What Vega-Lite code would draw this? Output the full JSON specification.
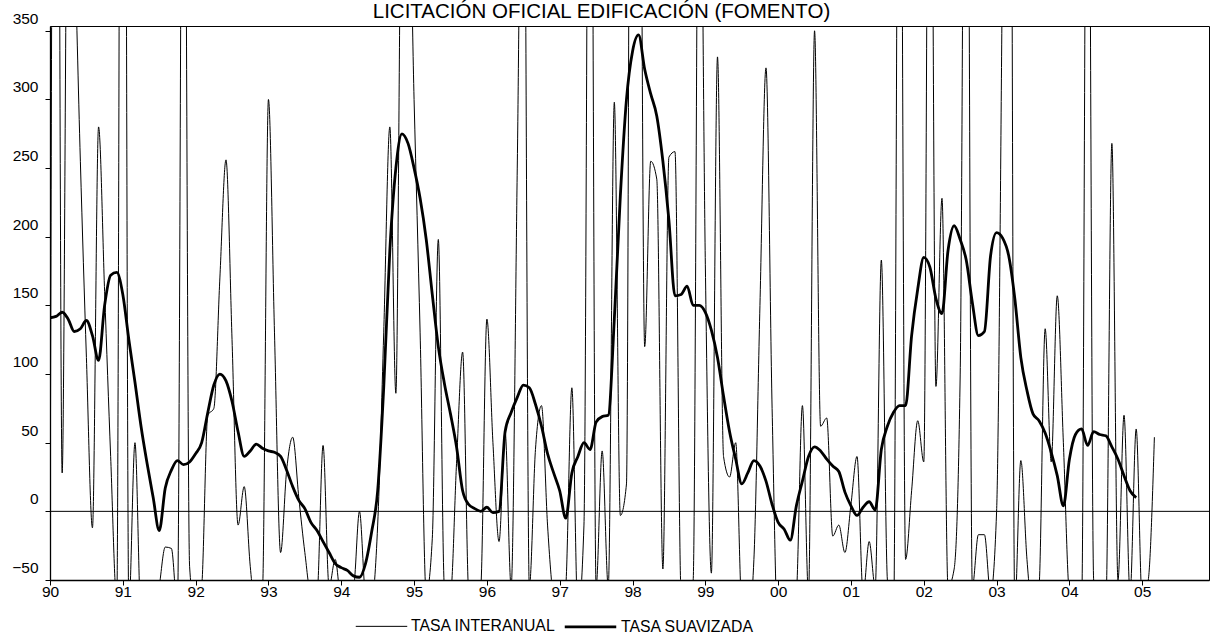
{
  "$schema": "https://vega.github.io/schema/vega-lite/v6.json",
  "width": 1159,
  "height": 554,
  "autosize": {"type": "none"},
  "padding": {"left": 50, "top": 26, "right": 2, "bottom": 56},
  "background": "white",
  "config": {
    "font": "Liberation Sans",
    "view": {"stroke": "black", "strokeWidth": 1},
    "axis": {"labelFont": "Liberation Sans", "labelColor": "black", "domainColor": "black", "tickColor": "black", "grid": false, "title": null}
  },
  "title": {
    "text": "LICITACIÓN OFICIAL EDIFICACIÓN (FOMENTO)",
    "font": "Liberation Sans",
    "fontSize": 20.5,
    "fontWeight": "normal",
    "color": "black",
    "anchor": "middle",
    "frame": "group",
    "dx": -28,
    "baseline": "alphabetic",
    "offset": -27.5
  },
  "data": {"values": [
    {"t":1990.000,"a":-60,"b":141},{"t":1990.083,"a":1000,"b":142},{"t":1990.167,"a":28,"b":145},{"t":1990.250,"a":530,"b":140},
    {"t":1990.333,"a":420,"b":131},{"t":1990.417,"a":255,"b":133},{"t":1990.500,"a":112,"b":139},{"t":1990.583,"a":-12,"b":128},
    {"t":1990.667,"a":280,"b":110},{"t":1990.750,"a":160,"b":150},{"t":1990.833,"a":40,"b":172},{"t":1990.917,"a":-65,"b":174},
    {"t":1991.000,"a":1200,"b":158},{"t":1991.083,"a":-70,"b":125},{"t":1991.167,"a":50,"b":94},{"t":1991.250,"a":-80,"b":62},
    {"t":1991.333,"a":-90,"b":35},{"t":1991.417,"a":-85,"b":10},{"t":1991.500,"a":-55,"b":-14},{"t":1991.583,"a":-26,"b":17},
    {"t":1991.667,"a":-27,"b":30},{"t":1991.750,"a":-70,"b":37},{"t":1991.833,"a":700,"b":34},{"t":1991.917,"a":-40,"b":36},
    {"t":1992.000,"a":-75,"b":42},{"t":1992.083,"a":-55,"b":50},{"t":1992.167,"a":70,"b":72},{"t":1992.250,"a":75,"b":92},
    {"t":1992.333,"a":170,"b":100},{"t":1992.417,"a":256,"b":95},{"t":1992.500,"a":125,"b":80},{"t":1992.583,"a":-10,"b":58},
    {"t":1992.667,"a":18,"b":40},{"t":1992.750,"a":-40,"b":44},{"t":1992.833,"a":-75,"b":49},{"t":1992.917,"a":-60,"b":46},
    {"t":1993.000,"a":300,"b":44},{"t":1993.083,"a":130,"b":43},{"t":1993.167,"a":-30,"b":40},{"t":1993.250,"a":30,"b":30},
    {"t":1993.333,"a":54,"b":18},{"t":1993.417,"a":10,"b":8},{"t":1993.500,"a":-30,"b":2},{"t":1993.583,"a":-60,"b":-8},
    {"t":1993.667,"a":-60,"b":-14},{"t":1993.750,"a":48,"b":-22},{"t":1993.833,"a":-55,"b":-30},{"t":1993.917,"a":-35,"b":-38},
    {"t":1994.000,"a":-65,"b":-41},{"t":1994.083,"a":-55,"b":-43},{"t":1994.167,"a":-55,"b":-47},{"t":1994.250,"a":0,"b":-48},
    {"t":1994.333,"a":-60,"b":-38},{"t":1994.417,"a":-65,"b":-15},{"t":1994.500,"a":-10,"b":15},{"t":1994.583,"a":130,"b":90},
    {"t":1994.667,"a":280,"b":190},{"t":1994.750,"a":86,"b":250},{"t":1994.833,"a":480,"b":275},{"t":1994.917,"a":480,"b":268},
    {"t":1995.000,"a":300,"b":250},{"t":1995.083,"a":130,"b":228},{"t":1995.167,"a":-60,"b":198},{"t":1995.250,"a":-20,"b":158},
    {"t":1995.333,"a":198,"b":120},{"t":1995.417,"a":-55,"b":93},{"t":1995.500,"a":-60,"b":71},{"t":1995.583,"a":35,"b":47},
    {"t":1995.667,"a":116,"b":15},{"t":1995.750,"a":-60,"b":5},{"t":1995.833,"a":-80,"b":2},{"t":1995.917,"a":-55,"b":0},
    {"t":1996.000,"a":140,"b":3},{"t":1996.083,"a":50,"b":-1},{"t":1996.167,"a":-22,"b":0},{"t":1996.250,"a":58,"b":58},
    {"t":1996.333,"a":-55,"b":72},{"t":1996.417,"a":250,"b":83},{"t":1996.500,"a":600,"b":92},{"t":1996.583,"a":-55,"b":90},
    {"t":1996.667,"a":45,"b":78},{"t":1996.750,"a":77,"b":62},{"t":1996.833,"a":-10,"b":42},{"t":1996.917,"a":-65,"b":28},
    {"t":1997.000,"a":-80,"b":15},{"t":1997.083,"a":-55,"b":-5},{"t":1997.167,"a":90,"b":28},{"t":1997.250,"a":-75,"b":40},
    {"t":1997.333,"a":-10,"b":50},{"t":1997.417,"a":750,"b":45},{"t":1997.500,"a":-55,"b":65},{"t":1997.583,"a":44,"b":69},
    {"t":1997.667,"a":-55,"b":70},{"t":1997.750,"a":298,"b":140},{"t":1997.833,"a":-3,"b":230},{"t":1997.917,"a":20,"b":300},
    {"t":1998.000,"a":1080,"b":335},{"t":1998.083,"a":850,"b":347},{"t":1998.167,"a":120,"b":322},{"t":1998.250,"a":255,"b":304},
    {"t":1998.333,"a":242,"b":288},{"t":1998.417,"a":-42,"b":255},{"t":1998.500,"a":258,"b":212},{"t":1998.583,"a":262,"b":157},
    {"t":1998.667,"a":-60,"b":158},{"t":1998.750,"a":-75,"b":164},{"t":1998.833,"a":-50,"b":150},{"t":1998.917,"a":570,"b":150},
    {"t":1999.000,"a":180,"b":145},{"t":1999.083,"a":-45,"b":132},{"t":1999.167,"a":331,"b":112},{"t":1999.250,"a":40,"b":84},
    {"t":1999.333,"a":25,"b":58},{"t":1999.417,"a":50,"b":38},{"t":1999.500,"a":-70,"b":20},{"t":1999.583,"a":-85,"b":28},
    {"t":1999.667,"a":-35,"b":37},{"t":1999.750,"a":150,"b":33},{"t":1999.833,"a":323,"b":22},{"t":1999.917,"a":75,"b":5},
    {"t":2000.000,"a":-90,"b":-8},{"t":2000.083,"a":-70,"b":-13},{"t":2000.167,"a":-80,"b":-21},{"t":2000.250,"a":-60,"b":4},
    {"t":2000.333,"a":77,"b":22},{"t":2000.417,"a":-60,"b":40},{"t":2000.500,"a":350,"b":47},{"t":2000.583,"a":62,"b":44},
    {"t":2000.667,"a":68,"b":38},{"t":2000.750,"a":-18,"b":33},{"t":2000.833,"a":-10,"b":29},{"t":2000.917,"a":-30,"b":14},
    {"t":2001.000,"a":5,"b":4},{"t":2001.083,"a":40,"b":-3},{"t":2001.167,"a":-60,"b":3},{"t":2001.250,"a":-22,"b":7},
    {"t":2001.333,"a":-55,"b":1},{"t":2001.417,"a":183,"b":45},{"t":2001.500,"a":-50,"b":62},{"t":2001.583,"a":-85,"b":72},
    {"t":2001.667,"a":700,"b":77},{"t":2001.750,"a":-35,"b":77},{"t":2001.833,"a":15,"b":128},{"t":2001.917,"a":66,"b":162},
    {"t":2002.000,"a":36,"b":185},{"t":2002.083,"a":700,"b":178},{"t":2002.167,"a":91,"b":155},{"t":2002.250,"a":228,"b":144},
    {"t":2002.333,"a":-55,"b":190},{"t":2002.417,"a":-42,"b":208},{"t":2002.500,"a":100,"b":198},{"t":2002.583,"a":760,"b":183},
    {"t":2002.667,"a":-55,"b":152},{"t":2002.750,"a":-17,"b":128},{"t":2002.833,"a":-17,"b":131},{"t":2002.917,"a":-60,"b":186},
    {"t":2003.000,"a":0,"b":203},{"t":2003.083,"a":420,"b":199},{"t":2003.167,"a":1000,"b":186},{"t":2003.250,"a":-70,"b":155},
    {"t":2003.333,"a":37,"b":112},{"t":2003.417,"a":-35,"b":88},{"t":2003.500,"a":-75,"b":71},{"t":2003.583,"a":-55,"b":66},
    {"t":2003.667,"a":133,"b":57},{"t":2003.750,"a":36,"b":43},{"t":2003.833,"a":157,"b":26},{"t":2003.917,"a":50,"b":4},
    {"t":2004.000,"a":-60,"b":38},{"t":2004.083,"a":-70,"b":56},{"t":2004.167,"a":-70,"b":60},{"t":2004.250,"a":680,"b":48},
    {"t":2004.333,"a":-50,"b":58},{"t":2004.417,"a":-75,"b":56},{"t":2004.500,"a":-70,"b":55},{"t":2004.583,"a":268,"b":47},
    {"t":2004.667,"a":-50,"b":38},{"t":2004.750,"a":70,"b":26},{"t":2004.833,"a":-60,"b":15},{"t":2004.917,"a":60,"b":10},
    {"t":2005.000,"a":-65,"b":null},{"t":2005.083,"a":-50,"b":null},{"t":2005.167,"a":54,"b":null}
  ]},
  "layer": [
    {
      "data": {"values": [{"z": 0}]},
      "mark": {"type": "rule", "color": "black", "strokeWidth": 1},
      "encoding": {
        "y": {"field": "z", "type": "quantitative"}
      }
    },
    {
      "transform": [{"fold": ["a", "b"], "as": ["s", "v"]}],
      "mark": {"type": "line", "interpolate": "monotone", "clip": true, "color": "black"},
      "encoding": {
        "x": {
          "field": "t", "type": "quantitative",
          "scale": {"domain": [1990, 2005.917], "nice": false, "zero": false},
          "axis": {
            "values": [1990,1991,1992,1993,1994,1995,1996,1997,1998,1999,2000,2001,2002,2003,2004,2005],
            "labelExpr": "substring(toString(datum.value), 2)",
            "tickSize": 5, "domainWidth": 1.3, "labelFontSize": 15.5, "labelPadding": -1,
            "labelOverlap": false, "labelFlush": false
          }
        },
        "y": {
          "field": "v", "type": "quantitative",
          "scale": {"domain": [-50, 353.5], "nice": false, "zero": false},
          "axis": {
            "values": [-50,0,50,100,150,200,250,300,350],
            "tickSize": 5, "domainWidth": 1.3, "labelFontSize": 15.5, "labelPadding": 7,
            "labelBaseline": "alphabetic", "labelOffset": -7.5, "labelOverlap": false
          }
        },
        "strokeWidth": {
          "field": "s", "type": "ordinal",
          "scale": {"domain": ["a", "b"], "range": [1, 2.8]},
          "legend": {
            "orient": "none", "legendX": 305, "legendY": 573, "direction": "horizontal",
            "title": null, "padding": 0,
            "symbolType": "stroke", "symbolSize": 2650, "symbolStrokeColor": "black",
            "labelExpr": "datum.label == 'a' ? 'TASA INTERANUAL' : 'TASA SUAVIZADA'",
            "labelFont": "Liberation Sans", "labelFontSize": 15.8, "labelColor": "black",
            "labelOffset": 3, "columnPadding": 3, "labelLimit": 300
          }
        }
      }
    }
  ]
}
